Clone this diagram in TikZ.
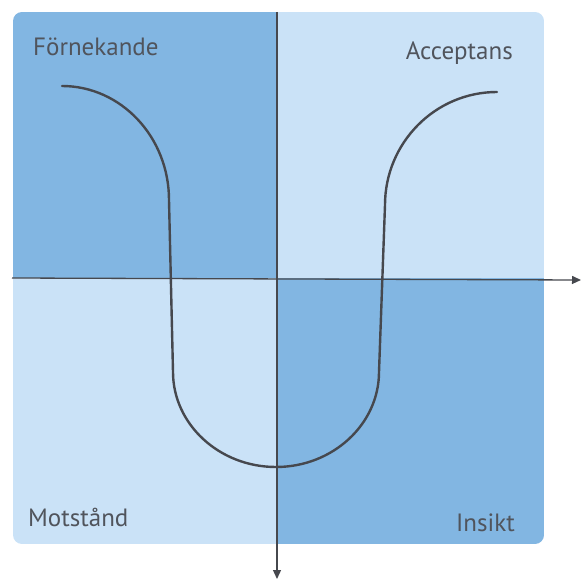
\documentclass[tikz,border=0pt]{standalone}
\usepackage{fontspec}
\setmainfont{PT Sans}
\usetikzlibrary{arrows.meta}
\definecolor{darkq}{RGB}{130,182,226}
\definecolor{lightq}{RGB}{202,226,247}
\definecolor{ink}{RGB}{70,72,78}
\definecolor{txt}{RGB}{80,84,92}
\tikzset{
  lbl/.style={font=\fontsize{25}{25}\selectfont, text=txt, inner sep=0pt},
  axis/.style={draw=ink, line width=1.3pt, -{Triangle[length=9pt,width=8pt]}},
  curve/.style={draw=ink, line width=2.4pt, line cap=round}
}
\begin{document}
\begin{tikzpicture}[x=1pt,y=-1pt]
\useasboundingbox (0,0) rectangle (581,580);
\begin{scope}
\clip[rounded corners=9pt] (13,12) rectangle (544,544);
\fill[darkq] (13,12) rectangle (277,278);
\fill[lightq] (277,12) rectangle (544,278);
\fill[lightq] (13,278) rectangle (277,544);
\fill[darkq] (277,278) rectangle (544,544);
\end{scope}
\coordinate (hs) at (12,278);
\coordinate (he) at (581,280);
\coordinate (vs) at (277,12);
\coordinate (ve) at (277,579);
\draw[axis] (hs) -- (he);
\draw[axis] (vs) -- (ve);
\coordinate (c0) at (62,86);
\coordinate (c1) at (169,200);
\coordinate (c2) at (173,372);
\coordinate (c3) at (276,467);
\coordinate (c4) at (379,372);
\coordinate (c5) at (385,205);
\coordinate (c6) at (497,92);
\draw[curve] (c0) .. controls (121,86) and (169,137) .. (c1)
  -- (c2) .. controls (173,424) and (219,467) .. (c3)
  .. controls (333,467) and (379,424) .. (c4)
  -- (c5) .. controls (385,143) and (435,92) .. (c6);
\node[lbl, anchor=base west] (fn) at (33,56) {Förnekande};
\node[lbl, anchor=base east] (ac) at (513,60) {Acceptans};
\node[lbl, anchor=base west] (mo) at (28,526) {Motstånd};
\node[lbl, anchor=base east] (in) at (515,531) {Insikt};
\end{tikzpicture}
\end{document}
